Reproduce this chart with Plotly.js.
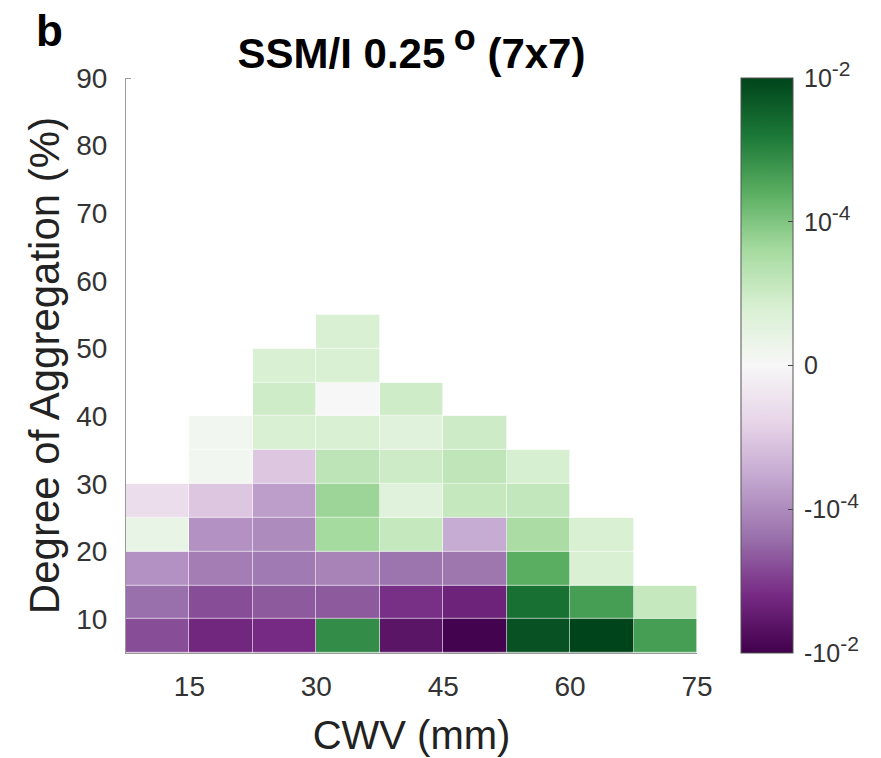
<!DOCTYPE html>
<html>
<head>
<meta charset="utf-8">
<script src="https://cdn.plot.ly/plotly-3.0.1.min.js"></script>
<style>html,body{margin:0;padding:0;background:#fff;}</style>
</head>
<body>
<div id="chart" style="width:881px;height:758px;"></div>
<script>
// Bin centres
const cwvCenters = [11.25, 18.75, 26.25, 33.75, 41.25, 48.75, 56.25, 63.75, 71.25];
const aggCenters = [7.5, 12.5, 17.5, 22.5, 27.5, 32.5, 37.5, 42.5, 47.5, 52.5];

// Cell values (rows = aggregation bins from 5-10 upward, columns = CWV bins)
const row05 = [-6.3e-4, -1.8e-3, -1.6e-3, 7.9e-4, -4.0e-3, -8.9e-3, 6.3e-3, 1.0e-2, 4.5e-4];
const row10 = [-2.5e-4, -6.3e-4, -4.5e-4, -4.5e-4, -1.4e-3, -2.2e-3, 2.0e-3, 4.5e-4, 1.3e-5];
const row15 = [-7.9e-5, -1.6e-4, -1.8e-4, -1.3e-4, -2.2e-4, -2.0e-4, 2.5e-4, 6.3e-6, null];
const row20 = [2.5e-6, -7.9e-5, -1.0e-4, 4.0e-5, 1.3e-5, -3.2e-5, 3.5e-5, 6.3e-6, null];
const row25 = [-4.0e-6, -1.1e-5, -5.0e-5, 5.0e-5, 4.0e-6, 1.3e-5, 1.4e-5, null, null];
const row30 = [null, 1.4e-6, -1.1e-5, 1.8e-5, 1.0e-5, 1.6e-5, 7.1e-6, null, null];
const row35 = [null, 1.4e-6, 6.3e-6, 6.3e-6, 4.0e-6, 1.0e-5, null, null, null];
const row40 = [null, null, 8.9e-6, 0, 8.9e-6, null, null, null, null];
const row45 = [null, null, 6.3e-6, 6.3e-6, null, null, null, null, null];
const row50 = [null, null, null, 6.3e-6, null, null, null, null, null];

const xTicks = [15, 30, 45, 60, 75];
const yTicks = [10, 20, 30, 40, 50, 60, 70, 80, 90];
const cbTickVals = [-4, -2, 0, 2, 4];
const cbTickLabels = ['-10|-2', '-10|-4', '0', '10|-4', '10|-2'];

// symmetric log colour transform (linear threshold 1e-6)
function symlog(v) {
  if (v === null) return null;
  if (v === 0) return 0;
  const s = v < 0 ? -1 : 1;
  return s * Math.max(0, Math.log10(Math.abs(v)) + 6);
}
const rows = [row05, row10, row15, row20, row25, row30, row35, row40, row45, row50];
const zT = rows.map(r => r.map(symlog));

const cbTickText = cbTickLabels.map(s => {
  const p = s.split('|');
  return '\u2009' + p[0] + (p[1] ? '<sup><span style="font-size:21px">' + p[1] + '</span></sup>' : '');
});

const prgn = [
  [0.0, '#40004b'], [0.1, '#762a83'], [0.2, '#9970ab'], [0.3, '#c2a5cf'],
  [0.4, '#e7d4e8'], [0.5, '#f7f7f7'], [0.6, '#d9f0d3'], [0.7, '#a6dba0'],
  [0.8, '#5aae61'], [0.9, '#1b7837'], [1.0, '#00441b']
];

const font = 'Liberation Sans, Arial, Helvetica, sans-serif';

const trace = {
  type: 'heatmap',
  x: cwvCenters,
  y: aggCenters,
  z: zT,
  zmin: -4, zmax: 4,
  colorscale: prgn,
  xgap: 0.6, ygap: 0.6,
  hoverongaps: false,
  colorbar: {
    x: 1.077, xanchor: 'left',
    y: 0.5, yanchor: 'middle',
    len: 1.0, lenmode: 'fraction',
    thickness: 52,
    outlinewidth: 1, outlinecolor: '#555',
    tickvals: cbTickVals, ticktext: cbTickText,
    ticks: 'inside', ticklen: 5, tickcolor: '#444',
    tickfont: {family: font, size: 25, color: '#333'},
    ypad: 0, xpad: 0
  }
};

const layout = {
  width: 881, height: 758,
  margin: {l: 126, r: 184, t: 78, b: 105},
  paper_bgcolor: '#fff', plot_bgcolor: '#fff',
  title: {
    text: '<b>SSM/I 0.25\u2009<sup><span style="font-size:36px">o</span></sup> (7x7)</b>',
    font: {family: font, size: 42, color: '#000'},
    x: 0.5, xanchor: 'center', xref: 'paper',
    y: 0.93, yanchor: 'middle'
  },
  xaxis: {
    range: [7.5, 75],
    tickvals: xTicks,
    ticks: '', showgrid: false, zeroline: false,
    showline: true, linecolor: '#999', linewidth: 1,
    tickfont: {family: font, size: 28, color: '#333'},
    ticklabelstandoff: 8,
    title: {text: 'CWV (mm)', font: {family: font, size: 40, color: '#222'}, standoff: 20}
  },
  yaxis: {
    range: [5, 90],
    tickvals: yTicks,
    ticks: '', showgrid: false, zeroline: false,
    minor: {tickvals: [90], ticks: 'inside', ticklen: 5, tickcolor: '#999', showgrid: false},
    showline: true, linecolor: '#999', linewidth: 1,
    tickfont: {family: font, size: 28, color: '#333'},
    ticklabelstandoff: 12,
    title: {text: 'Degree of Aggregation (%)', font: {family: font, size: 42, color: '#222'}, standoff: 3}
  },
  annotations: [{
    text: '<b>b</b>', xref: 'paper', yref: 'paper',
    x: -0.161, y: 1.082, xanchor: 'left', yanchor: 'middle',
    showarrow: false, font: {family: font, size: 44, color: '#000'}
  }]
};

Plotly.newPlot('chart', [trace], layout, {displayModeBar: false, staticPlot: true});
</script>
</body>
</html>
